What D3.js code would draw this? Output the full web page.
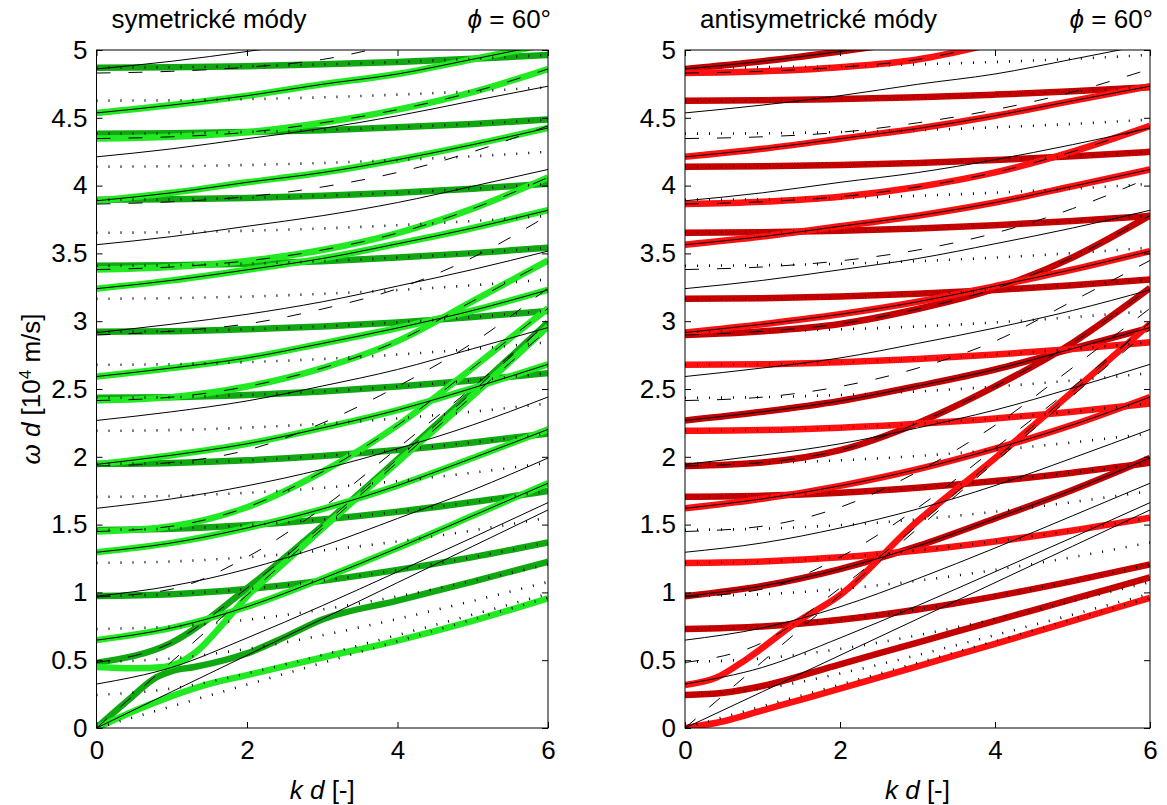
<!DOCTYPE html>
<html>
<head>
<meta charset="utf-8">
<script src="https://cdn.jsdelivr.net/npm/d3@7"></script>
<style>
  body { margin: 0; background: #fff; }
  text { font-family: "Liberation Sans", Arial, sans-serif; }
</style>
</head>
<body>
<svg id="viz" width="1167" height="805"></svg>
<script>
// k d sample grid for the thin (uncoupled) curves
const kGrid = [0, 1, 2, 3, 4, 5, 6];

// thin solid curves, one row per branch, values of omega*d at kGrid
const solidLines = [
  [0, 0.268, 0.536, 0.804, 1.072, 1.34, 1.608],
  [0.324, 0.447, 0.664, 0.902, 1.152, 1.405, 1.662],
  [0.648, 0.738, 0.894, 1.101, 1.327, 1.565, 1.805],
  [0.972, 1.048, 1.172, 1.341, 1.545, 1.755, 1.991],
  [1.296, 1.365, 1.475, 1.615, 1.788, 1.991, 2.202],
  [1.62, 1.69, 1.786, 1.908, 2.06, 2.235, 2.441],
  [1.944, 2.012, 2.096, 2.213, 2.345, 2.507, 2.682],
  [2.268, 2.332, 2.412, 2.522, 2.644, 2.797, 2.953],
  [2.592, 2.655, 2.729, 2.836, 2.95, 3.079, 3.231],
  [2.916, 2.978, 3.051, 3.143, 3.259, 3.381, 3.517],
  [3.24, 3.301, 3.379, 3.462, 3.571, 3.687, 3.818],
  [3.564, 3.624, 3.70, 3.778, 3.875, 3.995, 4.119],
  [3.888, 3.947, 4.024, 4.096, 4.191, 4.302, 4.425],
  [4.212, 4.271, 4.346, 4.421, 4.515, 4.625, 4.733],
  [4.536, 4.594, 4.663, 4.747, 4.823, 4.932, 5.044],
  [4.86, 4.917, 4.989, 5.068, 5.15, 5.26, 5.38]
];

// thin dashed curves
const dashedLines = [
  [0, 0.49, 0.98, 1.47, 1.96, 2.45, 2.94],
  [0.483, 0.63, 1.032, 1.494, 1.984, 2.48, 2.994],
  [0.966, 1.024, 1.26, 1.622, 2.063, 2.513, 2.99],
  [1.449, 1.488, 1.628, 1.889, 2.232, 2.657, 3.095],
  [1.932, 1.958, 2.049, 2.248, 2.519, 2.84, 3.245],
  [2.415, 2.44, 2.518, 2.654, 2.853, 3.148, 3.448],
  [2.898, 2.926, 2.98, 3.09, 3.24, 3.47, 3.78],
  [3.381, 3.40, 3.445, 3.525, 3.65, 3.83, 4.06],
  [3.864, 3.881, 3.918, 3.99, 4.097, 4.25, 4.44],
  [4.347, 4.36, 4.393, 4.463, 4.56, 4.69, 4.86],
  [4.83, 4.843, 4.873, 4.93, 5.05, 5.2, 5.4]
];

// thin dotted curves
const dottedLines = [
  [0, 0.16, 0.32, 0.48, 0.64, 0.80, 0.96],
  [0.2435, 0.291, 0.402, 0.538, 0.685, 0.836, 0.99],
  [0.487, 0.513, 0.583, 0.684, 0.804, 0.937, 1.077],
  [0.7305, 0.748, 0.798, 0.874, 0.971, 1.083, 1.206],
  [0.974, 0.987, 1.025, 1.086, 1.166, 1.26, 1.368],
  [1.2175, 1.228, 1.259, 1.309, 1.376, 1.457, 1.551],
  [1.461, 1.47, 1.496, 1.538, 1.595, 1.666, 1.748],
  [1.7045, 1.712, 1.734, 1.771, 1.821, 1.883, 1.956],
  [1.948, 1.955, 1.974, 2.006, 2.05, 2.106, 2.172],
  [2.1915, 2.197, 2.215, 2.244, 2.283, 2.333, 2.393],
  [2.435, 2.44, 2.456, 2.482, 2.518, 2.563, 2.617],
  [2.6785, 2.683, 2.698, 2.721, 2.754, 2.795, 2.845],
  [2.922, 2.926, 2.94, 2.961, 2.991, 3.03, 3.076],
  [3.1655, 3.17, 3.182, 3.202, 3.23, 3.265, 3.308],
  [3.409, 3.413, 3.424, 3.443, 3.469, 3.502, 3.542],
  [3.6525, 3.656, 3.667, 3.684, 3.708, 3.739, 3.777],
  [3.896, 3.899, 3.909, 3.925, 3.948, 3.977, 4.013],
  [4.1395, 4.143, 4.152, 4.167, 4.189, 4.216, 4.249],
  [4.383, 4.386, 4.395, 4.409, 4.43, 4.455, 4.487],
  [4.6265, 4.629, 4.638, 4.651, 4.671, 4.695, 4.725],
  [4.87, 4.873, 4.881, 4.894, 4.912, 4.935, 4.964]
];

// thick mode curves, [k d, omega d] pairs
const symLight = [
  [[0,0],[0.5,0.125],[1,0.235],[1.5,0.325],[2,0.39],[3,0.52],[4,0.645],[5,0.79],[6,0.956]],
  [[0,0.45],[0.5,0.44],[0.9,0.45],[1.3,0.55],[1.7,0.78],[2,0.97],[2.5,1.22],[3,1.47],[4,1.96],[5,2.45],[6,2.96]],
  [[0,0.648],[1,0.738],[2,0.894],[3,1.101],[4,1.327],[5,1.565],[6,1.805]],
  [[0,1.296],[1,1.365],[2,1.475],[3,1.615],[4,1.788],[5,1.991],[6,2.202]],
  [[0,1.944],[1,2.012],[2,2.096],[3,2.213],[4,2.345],[5,2.507],[6,2.682]],
  [[0,2.592],[1,2.655],[2,2.729],[3,2.836],[4,2.95],[5,3.079],[6,3.231]],
  [[0,3.24],[1,3.301],[2,3.379],[3,3.462],[4,3.571],[5,3.687],[6,3.818]],
  [[0,3.888],[1,3.947],[2,4.024],[3,4.096],[4,4.191],[5,4.302],[6,4.425]],
  [[0,4.536],[1,4.594],[2,4.663],[3,4.747],[4,4.823],[5,4.932],[6,5.044]],
  [[0,1.449],[1,1.488],[2,1.628],[3,1.889],[4,2.232],[5,2.657],[6,3.095]],
  [[0,2.415],[1,2.44],[2,2.518],[3,2.654],[4,2.853],[5,3.148],[6,3.448]],
  [[0,3.381],[1,3.40],[2,3.445],[3,3.525],[4,3.65],[5,3.83],[6,4.06]],
  [[0,4.347],[1,4.36],[2,4.393],[3,4.463],[4,4.56],[5,4.69],[6,4.86]]
];
const symDark = [
  [[0,0],[0.4,0.195],[0.8,0.375],[1,0.42],[1.3,0.45],[1.7,0.5],[2,0.55],[2.5,0.67],[3,0.8],[4,0.94],[5,1.08],[6,1.226]],
  [[0,0.48],[1,0.63],[2,1.03],[3,1.49],[4,1.98],[5,2.48],[6,2.99]],
  [[0,0.974],[1,0.987],[2,1.025],[3,1.086],[4,1.166],[5,1.26],[6,1.368]],
  [[0,1.461],[1,1.47],[2,1.496],[3,1.538],[4,1.595],[5,1.666],[6,1.748]],
  [[0,1.948],[1,1.955],[2,1.974],[3,2.006],[4,2.05],[5,2.106],[6,2.172]],
  [[0,2.435],[1,2.44],[2,2.456],[3,2.482],[4,2.518],[5,2.563],[6,2.617]],
  [[0,2.922],[1,2.926],[2,2.94],[3,2.961],[4,2.991],[5,3.03],[6,3.076]],
  [[0,3.409],[1,3.413],[2,3.424],[3,3.443],[4,3.469],[5,3.502],[6,3.542]],
  [[0,3.896],[1,3.899],[2,3.909],[3,3.925],[4,3.948],[5,3.977],[6,4.013]],
  [[0,4.383],[1,4.386],[2,4.395],[3,4.409],[4,4.43],[5,4.455],[6,4.487]],
  [[0,4.87],[1,4.873],[2,4.881],[3,4.894],[4,4.912],[5,4.935],[6,4.964]]
];
const antiLight = [
  [[0,0],[0.5,0.05],[1,0.13],[1.5,0.21],[2,0.29],[3,0.455],[4,0.62],[5,0.79],[6,0.96]],
  [[0,0.317],[0.4,0.37],[0.8,0.51],[1.44,0.78],[2,0.98],[2.95,1.5],[4,1.99],[5,2.48],[6,2.98]],
  [[0,1.62],[1,1.69],[2,1.786],[3,1.908],[4,2.06],[5,2.235],[6,2.441]],
  [[0,2.916],[1,2.978],[2,3.051],[3,3.143],[4,3.259],[5,3.381],[6,3.517]],
  [[0,3.564],[1,3.624],[2,3.70],[3,3.778],[4,3.875],[5,3.995],[6,4.119]],
  [[0,4.212],[1,4.271],[2,4.346],[3,4.421],[4,4.515],[5,4.625],[6,4.733]],
  [[0,1.2175],[1,1.228],[2,1.259],[3,1.309],[4,1.376],[5,1.457],[6,1.551]],
  [[0,2.1915],[1,2.197],[2,2.215],[3,2.244],[4,2.283],[5,2.333],[6,2.393]],
  [[0,2.6785],[1,2.683],[2,2.698],[3,2.721],[4,2.754],[5,2.795],[6,2.845]],
  [[0,3.864],[1,3.881],[2,3.918],[3,3.99],[4,4.097],[5,4.25],[6,4.44]],
  [[0,4.83],[1,4.843],[2,4.873],[3,4.93],[4,5.05],[5,5.2],[6,5.4]]
];
const antiDark = [
  [[0,0.2435],[0.5,0.26],[1,0.31],[2,0.47],[3,0.63],[4,0.79],[5,0.95],[6,1.11]],
  [[0,0.7305],[1,0.748],[2,0.798],[3,0.874],[4,0.971],[5,1.083],[6,1.206]],
  [[0,1.7045],[1,1.712],[2,1.734],[3,1.771],[4,1.821],[5,1.883],[6,1.956]],
  [[0,3.1655],[1,3.17],[2,3.182],[3,3.202],[4,3.23],[5,3.265],[6,3.308]],
  [[0,3.6525],[1,3.656],[2,3.667],[3,3.684],[4,3.708],[5,3.739],[6,3.777]],
  [[0,4.1395],[1,4.143],[2,4.152],[3,4.167],[4,4.189],[5,4.216],[6,4.249]],
  [[0,4.6265],[1,4.629],[2,4.638],[3,4.651],[4,4.671],[5,4.695],[6,4.725]],
  [[0,0.972],[1,1.048],[2,1.172],[3,1.341],[4,1.545],[5,1.755],[6,1.991]],
  [[0,2.268],[1,2.332],[2,2.412],[3,2.522],[4,2.644],[5,2.797],[6,2.953]],
  [[0,4.86],[1,4.917],[2,4.989],[3,5.068],[4,5.15],[5,5.26],[6,5.38]],
  [[0,1.932],[1,1.958],[2,2.049],[3,2.248],[4,2.519],[5,2.84],[6,3.245]],
  [[0,2.898],[1,2.926],[2,2.98],[3,3.09],[4,3.24],[5,3.47],[6,3.78]]
];

const yTicks = [0, 0.5, 1, 1.5, 2, 2.5, 3, 3.5, 4, 4.5, 5];
const xTicks = [0, 2, 4, 6];

const svg = d3.select("#viz");
const yTop = 50, yBot = 728;

const panels = [
  { x0: 96.5, x1: 548, title: "symetrické módy", light: symLight, dark: symDark,
    lightColor: "#22ea22", darkColor: "#10a810" },
  { x0: 685, x1: 1150, title: "antisymetrické módy", light: antiLight, dark: antiDark,
    lightColor: "#ff1010", darkColor: "#c40000" }
];

const y = d3.scaleLinear().domain([0, 5]).range([yBot, yTop]);

panels.forEach(function(p, i) {
  const x = d3.scaleLinear().domain([0, 6]).range([p.x0, p.x1]);
  const g = svg.append("g");

  g.append("clipPath").attr("id", "clip" + i)
    .append("rect").attr("x", p.x0).attr("y", yTop)
    .attr("width", p.x1 - p.x0).attr("height", yBot - yTop);

  const plot = g.append("g").attr("clip-path", "url(#clip" + i + ")");

  const pairLine = d3.line()
    .x(d => x(d[0])).y(d => y(d[1]))
    .curve(d3.curveMonotoneX);
  const gridLine = d3.line()
    .x((d, j) => x(kGrid[j])).y(d => y(d))
    .curve(d3.curveMonotoneX);

  // thick modes
  plot.selectAll(".dark").data(p.dark).enter().append("path")
    .attr("d", pairLine).attr("fill", "none")
    .attr("stroke", p.darkColor).attr("stroke-width", 6.5);
  plot.selectAll(".light").data(p.light).enter().append("path")
    .attr("d", pairLine).attr("fill", "none")
    .attr("stroke", p.lightColor).attr("stroke-width", 6.5);

  // thin curves on top
  plot.selectAll(".solid").data(solidLines).enter().append("path")
    .attr("d", gridLine).attr("fill", "none")
    .attr("stroke", "#000").attr("stroke-width", 1);
  plot.selectAll(".dashed").data(dashedLines).enter().append("path")
    .attr("d", gridLine).attr("fill", "none")
    .attr("stroke", "#000").attr("stroke-width", 1)
    .attr("stroke-dasharray", "14 18");
  plot.selectAll(".dotted").data(dottedLines).enter().append("path")
    .attr("d", gridLine).attr("fill", "none")
    .attr("stroke", "#000").attr("stroke-width", 2.6)
    .attr("stroke-dasharray", "1 11");

  // axes with inward ticks
  const axL = g.append("g").attr("transform", "translate(" + p.x0 + ",0)")
    .call(d3.axisLeft(y).tickValues(yTicks).tickSize(-6).tickSizeOuter(0).tickPadding(9)
      .tickFormat(d3.format("")));
  g.append("g").attr("transform", "translate(" + p.x1 + ",0)")
    .call(d3.axisRight(y).tickValues(yTicks).tickSize(-6).tickSizeOuter(0).tickFormat(""));
  const axB = g.append("g").attr("transform", "translate(0," + yBot + ")")
    .call(d3.axisBottom(x).tickValues(xTicks).tickSize(-6).tickSizeOuter(0).tickPadding(13)
      .tickFormat(d3.format("")));
  g.append("g").attr("transform", "translate(0," + yTop + ")")
    .call(d3.axisTop(x).tickValues(xTicks).tickSize(-6).tickSizeOuter(0).tickFormat(""));

  g.selectAll(".domain").remove();
  g.selectAll(".tick line").attr("stroke", "#000");
  axL.selectAll("text").style("font-size", "26px").attr("fill", "#000");
  axB.selectAll("text").style("font-size", "26px").attr("fill", "#000");

  g.append("rect").attr("x", p.x0).attr("y", yTop)
    .attr("width", p.x1 - p.x0).attr("height", yBot - yTop)
    .attr("fill", "none").attr("stroke", "#000").attr("stroke-width", 1);

  // titles
  g.append("text").attr("x", p.x0 + 15).attr("y", 28)
    .style("font-size", "26px").text(p.title);
  const phi = g.append("text").attr("x", p.x1 + 3).attr("y", 28)
    .attr("text-anchor", "end").style("font-size", "26px");
  phi.append("tspan").style("font-style", "italic").text("\u03d5");
  phi.append("tspan").text(" = 60\u00b0");

  // x label
  const xl = g.append("text").attr("x", (p.x0 + p.x1) / 2).attr("y", 799)
    .attr("text-anchor", "middle").style("font-size", "26px");
  xl.append("tspan").style("font-style", "italic").text("k");
  xl.append("tspan").text(" ");
  xl.append("tspan").style("font-style", "italic").text("d");
  xl.append("tspan").text(" [-]");
});

// y label
const yl = svg.append("text")
  .attr("transform", "translate(40," + ((yTop + yBot) / 2) + ") rotate(-90)")
  .attr("text-anchor", "middle").style("font-size", "26px");
yl.append("tspan").style("font-style", "italic").text("\u03c9");
yl.append("tspan").text(" ");
yl.append("tspan").style("font-style", "italic").text("d");
yl.append("tspan").text(" [10");
yl.append("tspan").attr("baseline-shift", "super").style("font-size", "17px").text("4");
yl.append("tspan").text(" m/s]");
</script>
</body>
</html>
